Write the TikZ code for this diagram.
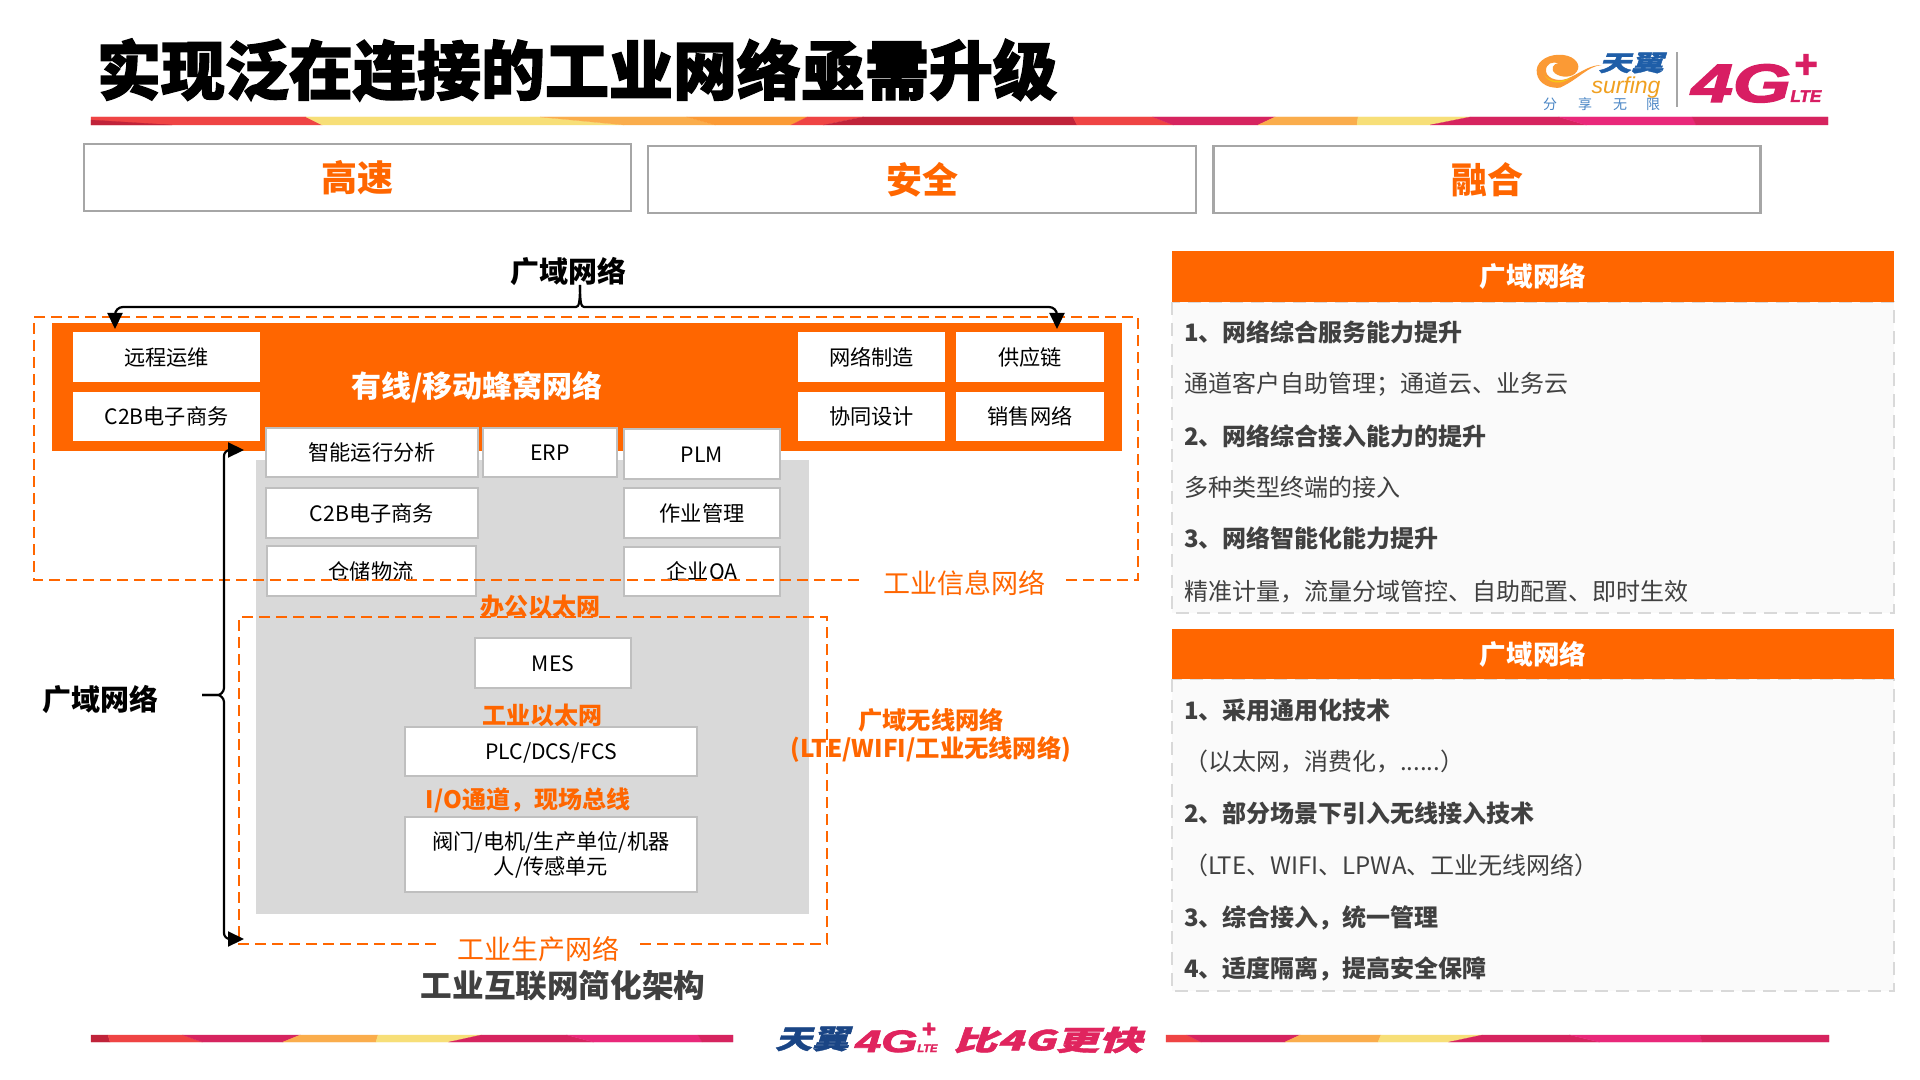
\documentclass[tikz,border=0pt]{standalone}
\usepackage{fontspec}
\usepackage{graphicx}
\usetikzlibrary{arrows.meta}
\setmainfont{Noto Sans CJK SC}
\newfontfamily\heavyf[BoldFeatures={FakeBold=2.2}]{Noto Sans CJK SC}
\newfontfamily\slantf[FakeSlant=0.22,BoldFeatures={FakeSlant=0.22,FakeBold=1.5}]{Noto Sans CJK SC}
\newfontfamily\logof{Liberation Sans}
\newfontfamily\logoh[BoldFeatures={FakeBold=2.5},BoldItalicFeatures={FakeBold=2.5}]{Liberation Sans}
\definecolor{ctorange}{HTML}{FF6600}
\definecolor{txtgray}{HTML}{404040}
\definecolor{frameg}{HTML}{A6A6A6}
\definecolor{boxg}{HTML}{BFBFBF}
\definecolor{areag}{HTML}{D9D9D9}
\definecolor{panelg}{HTML}{FAFAFA}
\definecolor{sdark}{HTML}{C0233A}
\definecolor{sred}{HTML}{EF4444}
\definecolor{syel}{HTML}{F7DF78}
\definecolor{sorg}{HTML}{FAAD4C}
\definecolor{sorh}{HTML}{FB9A35}
\definecolor{spink}{HTML}{D6245F}
\definecolor{sros}{HTML}{E9287A}
\definecolor{logoblue}{HTML}{1F5EA8}
\definecolor{logoblueb}{HTML}{1A4585}
\definecolor{logolite}{HTML}{4A86C5}
\definecolor{logoorg}{HTML}{F0A020}
\definecolor{logopink}{HTML}{D81E63}
\definecolor{logored}{HTML}{E0245E}
\tikzset{
  sz/.style 2 args={minimum width=#1*0.5pt,minimum height=#2*0.5pt},
  txt/.style={inner sep=0pt,outer sep=0pt},
  fs/.style={font=\fontsize{#1}{#1}\selectfont,text height=0.88*#1*1pt,text depth=0.12*#1*1pt},
  fsb/.style={font=\fontsize{#1}{#1}\selectfont\bfseries,text height=0.88*#1*1pt,text depth=0.12*#1*1pt},
  frame/.style={txt,draw=frameg,line width=1.1pt,fill=white,text=ctorange,fsb=18},
  wbox/.style={txt,fill=white,text=black,fs=10.6},
  gbox/.style={txt,fill=white,draw=boxg,line width=1pt,text=black,fs=10.6},
  olabel/.style={txt,text=ctorange,fsb=12},
  onet/.style={txt,text=ctorange,fs=13.5},
  odash/.style={draw=ctorange,line width=1pt,dash pattern=on 5.5pt off 3pt},
  pdash/.style={draw=areag,line width=1.25pt,dash pattern=on 6.5pt off 4pt},
  phead/.style={txt,fill=ctorange,text=white,fsb=13.3},
  pbold/.style={txt,anchor=west,text=txtgray,fsb=12},
  pnorm/.style={txt,anchor=west,text=txtgray,fs=12},
  conn/.style={draw=black,line width=1.1pt},
  tipped/.style={-{Triangle[length=8pt,width=7.5pt]}},
  seg/.style={fill=#1,draw=#1,line width=.1pt},
}
\begin{document}
\begin{tikzpicture}[x=0.5pt,y=-0.5pt]
\useasboundingbox (0,0) rectangle (1920,1080);
\fill[white] (0,0) rectangle (1920,1080);
% top stripe
\foreach \a/\b/\c/\d/\col in {91/91/306/322/sred,306/322/540/624/syel,540/624/687/715/sorg,687/715/807/791/sorh,807/791/863/824/sred,863/824/1073/1077/sdark,1073/1077/1153/1173/sred,1153/1173/1275/1258/spink,1275/1258/1358/1357/sorg,1358/1357/1470/1430/syel,1470/1430/1559/1586/spink,1559/1586/1692/1696/sros,1692/1696/1828/1828/spink}
  \path[seg=\col] (\a,117) -- (\c,117) -- (\d,125) -- (\b,125) -- cycle;
\path[seg=sdark] (91,120) -- (172,125) -- (91,125) -- cycle;
% bottom stripes
\foreach \a/\b/\c/\d/\col in {91/91/108/110/sdark,108/110/183/202/sred,183/202/300/283/spink,300/283/378/376/sorg,378/376/481/449/syel,481/449/567/593/spink,567/593/698/702/sros,698/702/733/733/spink,1166/1166/1187/1201/sred,1187/1201/1300/1285/spink,1300/1285/1381/1378/sorg,1381/1378/1482/1449/syel,1482/1449/1570/1599/spink,1570/1599/1700/1702/sros,1700/1702/1829/1829/spink}
  \path[seg=\col] (\a,1035) -- (\c,1035) -- (\d,1042) -- (\b,1042) -- cycle;
% title
\node[txt,font=\fontsize{32}{38}\selectfont\heavyf\bfseries,text=black,text height=28.2pt,text depth=3.8pt] (title) at (577,70) {实现泛在连接的工业网络亟需升级};
% top frames
\node[frame,sz={547}{67}] (fast) at (357.5,177.5) {高速};
\node[frame,sz={548}{67}] (safe) at (922,179.5) {安全};
\node[frame,sz={547}{67}] (merge) at (1487,179.5) {融合};
% logo top
\begin{scope}[shift={(1530,45)},x=0.1667pt,y=-0.1667pt]
  \path[fill=sorh,even odd rule]
   (215,60) .. controls (170,65) and (150,100) .. (90,128) .. controls (45,132) and (18,105) .. (20,75)
   .. controls (22,45) and (60,25) .. (100,30) .. controls (135,34) and (155,60) .. (140,80)
   .. controls (128,98) and (95,100) .. (75,85) .. controls (60,72) and (70,55) .. (85,55)
   .. controls (70,48) and (45,55) .. (48,80) .. controls (52,102) and (90,115) .. (125,95)
   .. controls (155,80) and (180,60) .. (215,60) -- cycle;
  \path[fill=logoorg!60!yellow]
   (40,85) .. controls (50,108) and (90,118) .. (125,95) .. controls (100,120) and (55,120) .. (40,85) -- cycle;
\end{scope}
\node[txt,text=logoblue,font=\fontsize{15.5}{18}\selectfont\slantf\bfseries] (tianyi) at (1631,63) {\scalebox{1.05}[.72]{天翼}};
\node[txt,text=logoorg,font=\fontsize{11.5}{14}\selectfont\logof\itshape] (surfing) at (1626,88) {surfing};
\node[txt,text=logolite,fs=7] (s1) at (1550,104) {分};
\node[txt,text=logolite,fs=7] (s2) at (1585,104) {享};
\node[txt,text=logolite,fs=7] (s3) at (1620,104) {无};
\node[txt,text=logolite,fs=7] (s4) at (1653,104) {限};
\fill[frameg] (1676,52) rectangle (1678,107);
\node[inner sep=0pt,anchor=base west,text=logopink,font=\fontsize{27}{30}\selectfont\logoh\bfseries\itshape] (g4) at (1691,102) {\scalebox{1.38}[1]{4G}};
\node[inner sep=0pt,text=logopink,font=\fontsize{20}{22}\selectfont\logoh\bfseries] (gplus) at (1806,66) {+};
\node[inner sep=0pt,anchor=base west,text=logopink,font=\fontsize{8.5}{11}\selectfont\logoh\bfseries\itshape] (glte) at (1790,102) {LTE};
% footer logo
\node[txt,text=logoblueb,font=\fontsize{18.5}{22}\selectfont\slantf\bfseries] (ftian) at (812,1039) {\scalebox{1}[.72]{天翼}};
\node[inner sep=0pt,anchor=base west,text=logored,font=\fontsize{15.5}{18}\selectfont\logoh\bfseries\itshape] (f4g) at (855,1052) {\scalebox{1.5}[1]{4G}};
\node[inner sep=0pt,text=logored,font=\fontsize{12}{14}\selectfont\logoh\bfseries] (fplus) at (929,1030) {+};
\node[inner sep=0pt,anchor=base west,text=logored,font=\fontsize{5.5}{7}\selectfont\logoh\bfseries\itshape] (flte) at (917,1052) {LTE};
\node[txt,text=logored,font=\fontsize{14.5}{18}\selectfont\slantf\bfseries] (ffast) at (1048,1040) {\scalebox{1.5}[.95]{比4G更快}};
% gray and orange areas
\fill[areag] (256,460) rectangle (809,914);
\fill[ctorange] (52,323) rectangle (1122,451);
\node[txt,text=white,fsb=15] (wired) at (477,386) {有线/移动蜂窝网络};
\node[wbox,sz={187}{50}] (remote) at (166.5,357) {远程运维};
\node[wbox,sz={187}{49}] (c2ba) at (166.5,416.5) {C2B电子商务};
\node[wbox,sz={147}{50}] (netman) at (871.5,357) {网络制造};
\node[wbox,sz={148}{50}] (supply) at (1030,357) {供应链};
\node[wbox,sz={147}{49}] (design) at (871.5,416.5) {协同设计};
\node[wbox,sz={148}{49}] (sales) at (1030,416.5) {销售网络};
\node[gbox,sz={212}{49}] (analysis) at (372,452.5) {智能运行分析};
\node[gbox,sz={134}{49}] (erp) at (550,452.5) {ERP};
\node[gbox,sz={156}{50}] (plm) at (702,454) {PLM};
\node[gbox,sz={212}{50}] (c2bb) at (372,513) {C2B电子商务};
\node[gbox,sz={156}{50}] (job) at (702,513) {作业管理};
\node[gbox,sz={209}{50}] (store) at (371,571) {仓储物流};
\node[gbox,sz={156}{49}] (oa) at (702,571.5) {企业OA};
\node[gbox,sz={156}{50}] (mes) at (553,663) {MES};
\node[gbox,sz={292}{49}] (plc) at (551,751.5) {PLC/DCS/FCS};
\node[gbox,sz={292}{75},align=center,text height=,text depth=,font=\fontsize{10.6}{12.5}\selectfont] (valve) at (551,854.5) {阀门/电机/生产单位/机器\\人/传感单元};
\node[olabel] (office) at (540,606) {办公以太网};
\node[olabel] (indeth) at (542,715) {工业以太网};
\node[olabel] (iobus) at (528,799) {I/O通道，现场总线};
% dashed regions
\coordinate (oa1) at (864,580);
\coordinate (oa2) at (1066,580);
\draw[odash] (oa2) -- (1138,580) -- (1138,317) -- (34,317) -- (34,580) -- (oa1);
\coordinate (ob1) at (440,944);
\coordinate (ob2) at (640,944);
\draw[odash] (ob2) -- (827,944) -- (827,617) -- (239,617) -- (239,944) -- (ob1);
\node[onet] (infonet) at (964,583) {工业信息网络};
\node[onet] (prodnet) at (538,949) {工业生产网络};
\node[txt,text=ctorange,align=center,font=\fontsize{12.15}{14}\selectfont\bfseries] (wireless) at (931,735) {广域无线网络\\(LTE/WIFI/工业无线网络)};
\node[txt,text=txtgray,fsb=15.8] (arch) at (563,985) {工业互联网简化架构};
% braces
\node[txt,text=black,fsb=14.5] (wan1) at (568,271) {广域网络};
\node[txt,text=black,fsb=14.5] (wan2) at (100,699) {广域网络};
\coordinate (t0) at (580,285);
\coordinate (tL) at (115,329);
\coordinate (tR) at (1057,329);
\coordinate (l0) at (202,695);
\coordinate (lT) at (244,450);
\coordinate (lB) at (244,939);
\draw[conn,tipped,rounded corners=4pt] (t0) .. controls (580,302) and (579,307) .. (568,307) -- (115,307) -- (tL);
\draw[conn,tipped,rounded corners=4pt] (t0) .. controls (580,302) and (581,307) .. (592,307) -- (1057,307) -- (tR);
\draw[conn,tipped,rounded corners=3pt] (l0) -- (212,695) .. controls (220,695) and (224,692) .. (224,682) -- (224,450) -- (lT);
\draw[conn,tipped,rounded corners=3pt] (l0) -- (212,695) .. controls (220,695) and (224,698) .. (224,708) -- (224,939) -- (lB);
% right panels
\draw[pdash,fill=panelg] (1172,302) rectangle (1894,613);
\node[phead,sz={722}{51}] (h1) at (1533,276.5) {广域网络};
\node[pbold] (a1) at (1184,332) {1、网络综合服务能力提升};
\node[pnorm] (a2) at (1184,383) {通道客户自助管理；通道云、业务云};
\node[pbold] (a3) at (1184,436) {2、网络综合接入能力的提升};
\node[pnorm] (a4) at (1184,487) {多种类型终端的接入};
\node[pbold] (a5) at (1184,538) {3、网络智能化能力提升};
\node[pnorm] (a6) at (1184,591) {精准计量，流量分域管控、自助配置、即时生效};
\draw[pdash,fill=panelg] (1172,679) rectangle (1894,991);
\node[phead,sz={722}{50}] (h2) at (1533,654) {广域网络};
\node[pbold] (b1) at (1184,710) {1、采用通用化技术};
\node[pnorm] (b2) at (1184,761) {（以太网，消费化，......）};
\node[pbold] (b3) at (1184,813) {2、部分场景下引入无线接入技术};
\node[pnorm] (b4) at (1184,865) {（LTE、WIFI、LPWA、工业无线网络）};
\node[pbold] (b5) at (1184,917) {3、综合接入，统一管理};
\node[pbold] (b6) at (1184,968) {4、适度隔离，提高安全保障};
\end{tikzpicture}
\end{document}
